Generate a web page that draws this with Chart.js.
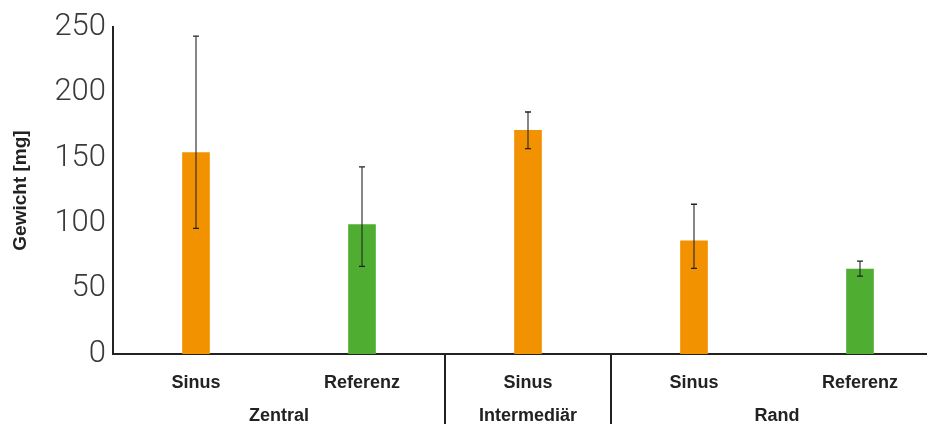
<!DOCTYPE html>
<html>
<head>
<meta charset="utf-8">
<script src="https://cdn.jsdelivr.net/npm/chart.js@4.4.1/dist/chart.umd.min.js"></script>
<style>
  html, body { margin: 0; padding: 0; background: #fff; overflow: hidden; }
  #wrap { width: 945px; height: 424px; position: relative; }
</style>
</head>
<body>
<div id="wrap"><canvas id="c"></canvas></div>
<script>
// Messwerte: mittleres Gewicht je Position und Probe
const categories = ['Sinus', 'Referenz', 'Sinus', 'Sinus', 'Referenz'];
const groupNames = ['Zentral', 'Intermediär', 'Rand'];
const groupOf = [0, 0, 1, 2, 2];
const weights = [154, 99, 171, 86.5, 65];
const errLow = [96, 67, 157, 65.5, 59.5];
const errHigh = [243, 143, 185, 114.5, 71];
const yTicks = [0, 50, 100, 150, 200, 250];

const ORANGE = '#F39200';
const GREEN = '#4FAE32';
const barColors = categories.map(c => c === 'Sinus' ? ORANGE : GREEN);

const labelFont = '"Liberation Sans", Arial, sans-serif';

// Fehlerbalken (min/max) über den Balken
const errorBars = {
  id: 'errorBars',
  afterDatasetsDraw(chart) {
    const { ctx, scales: { x, y } } = chart;
    ctx.save();
    for (let i = 0; i < weights.length; i++) {
      const px = x.getPixelForValue(i);
      const yTop = y.getPixelForValue(errHigh[i]);
      const yBot = y.getPixelForValue(errLow[i]);
      ctx.strokeStyle = 'rgba(40,40,40,0.7)';
      ctx.lineWidth = 1.6;
      ctx.beginPath();
      ctx.moveTo(px, yTop);
      ctx.lineTo(px, yBot);
      ctx.stroke();
      ctx.strokeStyle = '#222';
      ctx.lineWidth = 1.3;
      ctx.beginPath();
      ctx.moveTo(px - 3, yTop); ctx.lineTo(px + 3, yTop);
      ctx.moveTo(px - 3, yBot); ctx.lineTo(px + 3, yBot);
      ctx.stroke();
    }
    ctx.restore();
  }
};

// Gruppenbeschriftung und Trennlinien unter der x-Achse
const groupAxis = {
  id: 'groupAxis',
  afterDraw(chart) {
    const { ctx, scales: { x }, chartArea } = chart;
    ctx.save();
    ctx.strokeStyle = '#222';
    ctx.lineWidth = 2;
    for (let i = 1; i < groupOf.length; i++) {
      if (groupOf[i] !== groupOf[i - 1]) {
        const sx = (x.getPixelForValue(i - 1) + x.getPixelForValue(i)) / 2;
        ctx.beginPath();
        ctx.moveTo(sx, chartArea.bottom);
        ctx.lineTo(sx, chart.height);
        ctx.stroke();
      }
    }
    ctx.fillStyle = '#222';
    ctx.font = 'bold 18px ' + labelFont;
    ctx.textAlign = 'center';
    ctx.textBaseline = 'middle';
    groupNames.forEach((name, g) => {
      const idx = groupOf.map((v, i) => v === g ? i : -1).filter(i => i >= 0);
      const cx = idx.reduce((s, i) => s + x.getPixelForValue(i), 0) / idx.length;
      ctx.fillText(name, cx, 416);
    });
    ctx.restore();
  }
};

new Chart(document.getElementById('c'), {
  type: 'bar',
  data: {
    labels: categories,
    datasets: [{
      data: weights,
      backgroundColor: barColors,
      borderWidth: 0,
      barThickness: 27
    }]
  },
  options: {
    responsive: true,
    maintainAspectRatio: false,
    animation: false,
    layout: { padding: { top: 27, right: 2, left: 0, bottom: 0 } },
    plugins: { legend: { display: false }, tooltip: { enabled: false } },
    scales: {
      x: {
        grid: { display: false, drawTicks: false },
        border: { display: true, color: '#222', width: 2 },
        ticks: {
          color: '#222',
          font: { family: labelFont, size: 18, weight: 'bold' },
          padding: 18,
          maxRotation: 0,
          autoSkip: false
        },
        afterFit(scale) { scale.height = 70; }
      },
      y: {
        min: 0,
        max: 250,
        afterBuildTicks(scale) { scale.ticks = yTicks.map(v => ({ value: v })); },
        grid: { display: false, drawTicks: false },
        border: { display: true, color: '#222', width: 2 },
        ticks: {
          color: '#3a3a3a',
          font: { family: 'Roboto, "Open Sans", sans-serif', size: 31, weight: 300 },
          padding: 7
        },
        title: {
          display: true,
          text: 'Gewicht [mg]',
          color: '#222',
          font: { family: labelFont, size: 19, weight: 'bold' },
          padding: { top: 9, bottom: 0 }
        },
        afterFit(scale) { scale.width = 113; }
      }
    }
  },
  plugins: [errorBars, groupAxis]
});
</script>
</body>
</html>
